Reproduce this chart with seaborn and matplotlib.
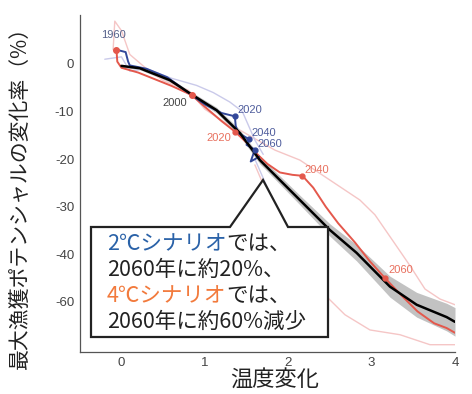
import numpy as np
import pandas as pd
import seaborn as sns
from matplotlib import pyplot as plt

# black mean curve (temperature change vs change in max catch potential)
mean_x = [0.0, 0.22, 0.58, 0.85, 1.14, 1.42, 1.66, 1.74, 2.14, 2.50, 2.82, 3.22, 3.54, 3.90, 4.0]
mean_y = [-0.4, -0.9, -3.4, -6.5, -9.7, -14.5, -20.2, -21.6, -28.6, -34.9, -39.7, -46.8, -50.6, -53.2, -54.2]
band_w = [0.3, 0.3, 0.4, 0.5, 0.6, 0.7, 0.8, 0.8, 1.0, 1.3, 1.7, 2.2, 2.6, 2.9, 3.0]

# 4C scenario (red)
red_x = [-0.06, -0.05, 0.0, 0.2, 0.4, 0.6, 0.84, 1.0, 1.1, 1.2, 1.36, 1.5, 1.6, 1.75, 1.9, 2.05, 2.17,
         2.3, 2.45, 2.6, 2.8, 2.98, 3.16, 3.35, 3.55, 3.75, 3.9, 4.0]
red_y = [3.0, 0.5, -0.8, -1.8, -3.2, -4.6, -6.5, -9.0, -10.5, -12.0, -14.2, -16.5, -18.5, -21.0, -22.8, -23.3, -23.5,
         -26.0, -30.0, -33.5, -37.5, -41.5, -45.0, -48.5, -52.0, -54.5, -55.5, -56.5]

# 2C scenario (blue)
blue_x = [-0.06, 0.05, 0.08, 0.1, 0.3, 0.55, 0.84, 1.0, 1.2, 1.36, 1.37, 1.4, 1.53, 1.5, 1.6, 1.55, 1.65]
blue_y = [3.0, 2.5, 0.5, -0.3, -1.0, -2.8, -6.5, -8.5, -10.3, -11.0, -13.0, -14.5, -15.8, -17.0, -18.0, -20.5, -19.5]

# faint ensemble members
pink1_x = [1.42, 1.84, 2.14, 2.50, 2.86, 3.04, 3.28, 3.46, 3.64, 3.82, 4.0]
pink1_y = [-13.9, -18.1, -20.2, -24.4, -28.6, -31.7, -37.8, -42.4, -47.3, -49.4, -50.6]
pink2_x = [1.6, 1.78, 1.96, 2.14, 2.38, 2.68, 2.98, 3.34, 3.70, 4.0]
pink2_y = [-21.2, -28.6, -34.9, -41.2, -47.5, -52.7, -55.9, -56.9, -59.0, -59.0]
pink3_x = [-0.1, -0.08, 0.0, 0.1, 0.3, 0.5, 0.8, 1.0, 1.3]
pink3_y = [3.0, 9.0, 7.0, 2.0, -1.0, -3.5, -5.5, -9.5, -13.0]
lav1_x = [-0.2, 0.0, 0.1, 0.3, 0.6, 0.9, 1.1, 1.3, 1.45, 1.6, 1.7]
lav1_y = [1.0, 1.5, -1.5, -1.0, -3.0, -4.5, -6.0, -8.0, -10.0, -16.0, -19.0]
lav2_x = [1.6, 1.7, 1.8, 1.85, 1.9]
lav2_y = [-20.0, -24.0, -28.0, -33.0, -36.0]

yticks = [0, -10, -20, -30, -40, -50]
ytick_labels = ['0', '-10', '-20', '-30', '-40', '-60']
xticks = [0, 1, 2, 3, 4]

red_pts = {'2020': (1.36, -14.2), '2040': (2.17, -23.5), '2060': (3.16, -45.0)}
blue_pts = {'2020': (1.36, -11.0), '2040': (1.53, -15.8), '2060': (1.6, -18.0)}

sns.set_style("white")
plt.rcParams['font.family'] = ['Noto Sans CJK JP', 'DejaVu Sans']

fig = plt.figure(figsize=(4.72, 3.94), dpi=100)
ax = fig.add_axes([0.169, 0.107, 0.795, 0.855])

RED = '#e4584c'
BLUE = '#33489a'
PINK = '#f5c6c6'
LAV = '#cacaea'

# faint lines
for fx, fy, c in [(pink1_x, pink1_y, PINK), (pink2_x, pink2_y, PINK), (pink3_x, pink3_y, PINK),
                  (lav1_x, lav1_y, LAV), (lav2_x, lav2_y, LAV)]:
    sns.lineplot(x=fx, y=fy, sort=False, estimator=None, color=c, lw=1.0, ax=ax)

# uncertainty band
lo = np.array(mean_y) - np.array(band_w)
hi = np.array(mean_y) + np.array(band_w)
ax.fill_between(mean_x, lo, hi, color='#9a9a9a', alpha=0.6, lw=0)

sns.lineplot(x=red_x, y=red_y, sort=False, estimator=None, color=RED, lw=1.4, ax=ax)
sns.lineplot(x=blue_x, y=blue_y, sort=False, estimator=None, color=BLUE, lw=1.4, ax=ax)
sns.lineplot(x=mean_x, y=mean_y, sort=False, estimator=None, color='black', lw=1.8, ax=ax)

# year markers
ax.plot(red_x[0], red_y[0], 'o', color=RED, ms=4)
ax.text(red_x[0] - 0.04, red_y[0] + 2.5, '1960', color='#55608a', fontsize=8, family='Liberation Sans', ha='center')
ax.plot(0.84, -6.5, 'o', color=RED, ms=4)
ax.text(0.84 - 0.05, -8.8, '2000', color='#444444', fontsize=8, family='Liberation Sans', ha='right')
for yr, (px, py) in red_pts.items():
    ax.plot(px, py, 'o', color=RED, ms=3.5)
ax.text(1.32, -16.2, '2020', color='#e8705e', fontsize=8, family='Liberation Sans', ha='right')
ax.text(2.2, -23.0, '2040', color='#e8705e', fontsize=8, family='Liberation Sans', ha='left')
ax.text(3.2, -44.0, '2060', color='#e8705e', fontsize=8, family='Liberation Sans', ha='left')
for yr, (px, py) in blue_pts.items():
    ax.plot(px, py, 'o', color=BLUE, ms=3.5)
    ax.text(px + 0.03, py + 0.6, yr, color='#4e5c9c', fontsize=8, family='Liberation Sans', ha='left')

ax.set_xlim(-0.5, 4.0)
ax.set_ylim(-60.5, 10.3)
ax.set_xticks(xticks)
ax.set_xticklabels([str(t) for t in xticks])
ax.set_yticks(yticks)
ax.set_yticklabels(ytick_labels)
ax.tick_params(direction='in', length=4, width=0.8, colors='#555555', labelcolor='#444444', labelsize=9.5, pad=4)
for lab in ax.get_xticklabels() + ax.get_yticklabels():
    lab.set_family('Liberation Sans')
sns.despine(ax=ax)
for s in ['left', 'bottom']:
    ax.spines[s].set_color('#555555')
    ax.spines[s].set_linewidth(0.9)

# callout box with pointer (figure pixel coords -> figure fraction)
W, H = 472.0, 394.0
def fp(x, y):
    return (x / W, 1 - y / H)
box = [fp(91, 227), fp(230, 227), fp(263, 180), fp(288, 227), fp(328, 227), fp(328, 337), fp(91, 337)]
poly = plt.Polygon(box, closed=True, transform=fig.transFigure, facecolor='white',
                   edgecolor='#222222', lw=1.6, zorder=10)
fig.add_artist(poly)

lines = [[('2℃シナリオ', '#2a62a8'), ('では、', '#222222')],
         [('2060年に約20%、', '#222222')],
         [('4℃シナリオ', '#f27a3c'), ('では、', '#222222')],
         [('2060年に約60%減少', '#222222')]]
ys = [244, 270, 296, 322]
renderer = fig.canvas.get_renderer()
for parts, yy in zip(lines, ys):
    xpix = 107.0
    for txt, col in parts:
        x0, y0 = fp(xpix, yy)
        t = fig.text(x0, y0, txt, color=col, fontsize=15.5, va='center', ha='left', zorder=11)
        bb = t.get_window_extent(renderer=renderer)
        xpix += bb.width

fig.text(20 / W, 1 - 192 / H, '最大漁獲ポテンシャルの変化率（%）', rotation=90, fontsize=15,
         va='center', ha='center', color='#222222')
fig.text(275 / W, 1 - 380 / H, '温度変化', fontsize=16, va='center', ha='center', color='#222222')

fig.savefig('out.png', dpi=100)
